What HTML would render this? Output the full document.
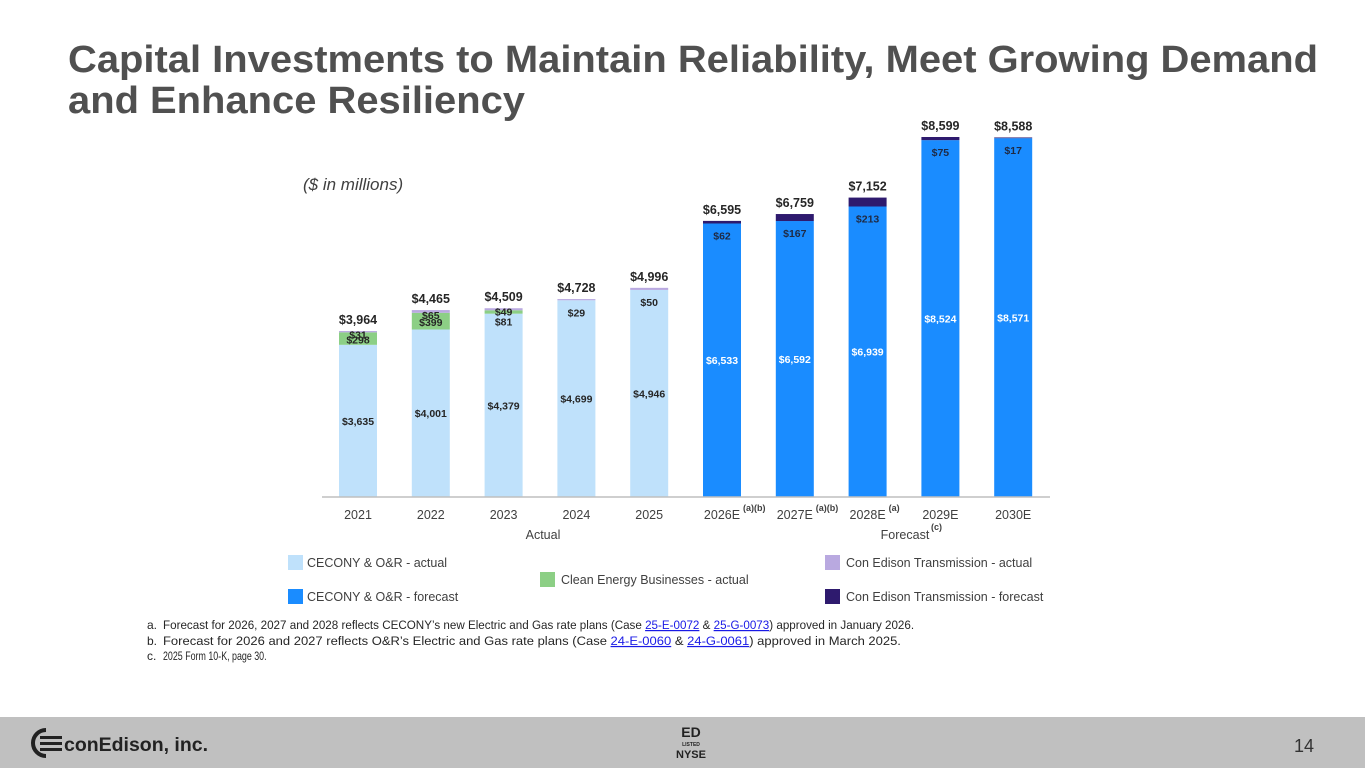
<!DOCTYPE html>
<html><head><meta charset="utf-8"><style>
html,body{margin:0;padding:0;background:#fff;}
svg{display:block;font-family:"Liberation Sans",Arial,sans-serif;}
</style></head><body>
<svg id="chart" width="1365" height="768" viewBox="0 0 1365 768">
<text x="68" y="72" font-size="38" font-weight="bold" fill="#505050" textLength="1250" lengthAdjust="spacingAndGlyphs">Capital Investments to Maintain Reliability, Meet Growing Demand</text>
<text x="68" y="113" font-size="38" font-weight="bold" fill="#505050" textLength="457" lengthAdjust="spacingAndGlyphs">and Enhance Resiliency</text>
<text x="303" y="190" font-size="17" font-style="italic" fill="#404040">($ in millions)</text>
<g id="bars"></g>
<line x1="322" y1="497" x2="1050" y2="497" stroke="#bfbfbf" stroke-width="1.5"/>
<g id="xlabels" font-size="12.5" fill="#404040" text-anchor="middle"></g>
<text x="543" y="539" font-size="12.5" fill="#404040" text-anchor="middle">Actual</text>
<text x="905" y="539" font-size="12.5" fill="#404040" text-anchor="middle">Forecast</text>
<text x="931" y="530" font-size="9" font-weight="bold" fill="#404040">(c)</text>
<g font-size="12.5" fill="#404040">
<g><rect x="288" y="555" width="15" height="15" fill="#bfe1fb"/><text x="307" y="567">CECONY &amp; O&amp;R - actual</text></g>
<g><rect x="540" y="572" width="15" height="15" fill="#8ccf85"/><text x="561" y="584">Clean Energy Businesses - actual</text></g>
<g><rect x="288" y="589" width="15" height="15" fill="#1a8cff"/><text x="307" y="601">CECONY &amp; O&amp;R - forecast</text></g>
<g><rect x="825" y="555" width="15" height="15" fill="#b9a9e0"/><text x="846" y="567">Con Edison Transmission - actual</text></g>
<g><rect x="825" y="589" width="15" height="15" fill="#2e1a6e"/><text x="846" y="601">Con Edison Transmission - forecast</text></g>
</g>
<g font-size="12" fill="#262626">
<text x="147" y="629">a.</text>
<text x="0" y="629" transform="translate(163,0) scale(0.970,1)">Forecast for 2026, 2027 and 2028 reflects CECONY’s new Electric and Gas rate plans (Case <tspan fill="#1a1ae6" text-decoration="underline">25-E-0072</tspan> &amp; <tspan fill="#1a1ae6" text-decoration="underline">25-G-0073</tspan>) approved in January 2026.</text>
<text x="147" y="645">b.</text>
<text x="0" y="645" transform="translate(163,0) scale(1.084,1)">Forecast for 2026 and 2027 reflects O&amp;R’s Electric and Gas rate plans (Case <tspan fill="#1a1ae6" text-decoration="underline">24-E-0060</tspan> &amp; <tspan fill="#1a1ae6" text-decoration="underline">24-G-0061</tspan>) approved in March 2025.</text>
<text x="147" y="660">c.</text>
<text x="0" y="660" transform="translate(163,0) scale(0.74,1)">2025 Form 10-K, page 30.</text>
</g>
<rect x="0" y="717" width="1365" height="51" fill="#c0c0c0"/>
<g>
<path d="M46 730 a13 13 0 0 0 0 26" fill="none" stroke="#222" stroke-width="4"/>
<rect x="40" y="736" width="22" height="3" fill="#222"/><rect x="40" y="742" width="22" height="3" fill="#222"/><rect x="40" y="748" width="22" height="3" fill="#222"/>
<text x="64" y="751" font-size="19" font-weight="bold" fill="#222" textLength="144" lengthAdjust="spacingAndGlyphs">conEdison, inc.</text>
</g>
<g fill="#222" text-anchor="middle" font-weight="bold">
<text x="691" y="737" font-size="14">ED</text>
<text x="691" y="746" font-size="5">LISTED</text>
<text x="691" y="758" font-size="11">NYSE</text>
</g>
<text x="1304" y="752" font-size="18" fill="#333" text-anchor="middle">14</text>
</svg>
<script>
const categories = ["2021","2022","2023","2024","2025","2026E","2027E","2028E","2029E","2030E"];
const superscripts = ["","","","","","(a)(b)","(a)(b)","(a)","",""];
const coreActual = [3635,4001,4379,4699,4946,0,0,0,0,0];
const cebActual = [298,399,81,0,0,0,0,0,0,0];
const cetActual = [31,65,49,29,50,0,0,0,0,0];
const coreForecast = [0,0,0,0,0,6533,6592,6939,8524,8571];
const cetForecast = [0,0,0,0,0,62,167,213,75,17];
const totals = [3964,4465,4509,4728,4996,6595,6759,7152,8599,8588];

const NS="http://www.w3.org/2000/svg";
const baseY=497, pxPer=360/8599, x0=358, step=72.8, bw=38;
const yScale=v=>baseY - v*pxPer;
const xScale=i=>x0 + i*step;
const fmt=v=>"$"+v.toLocaleString("en-US");
const g=document.getElementById("bars");
const xl=document.getElementById("xlabels");
function rect(x,y,w,h,fill){const r=document.createElementNS(NS,"rect");r.setAttribute("x",x);r.setAttribute("y",y);r.setAttribute("width",w);r.setAttribute("height",Math.max(h,0));r.setAttribute("fill",fill);g.appendChild(r);return r;}
function txt(parent,x,y,s,size,fill,bold){const t=document.createElementNS(NS,"text");t.setAttribute("x",x);t.setAttribute("y",y);t.setAttribute("font-size",size);t.setAttribute("fill",fill);t.setAttribute("text-anchor","middle");if(bold)t.setAttribute("font-weight","bold");t.textContent=s;parent.appendChild(t);return t;}
categories.forEach((c,i)=>{
  const cx=xScale(i), left=cx-bw/2;
  let acc=0;
  const segs=[[coreActual[i],"#bfe1fb","core-actual"],[cebActual[i],"#8ccf85","ceb-actual"],[cetActual[i],"#b9a9e0","cet-actual"],[coreForecast[i],"#1a8cff","core-forecast"],[cetForecast[i],"#2e1a6e","cet-forecast"]];
  segs.forEach(s=>{
    if(!s[0])return;
    const r=rect(left,yScale(acc+s[0]),bw,yScale(acc)-yScale(acc+s[0]),s[1]);
    
    
    acc+=s[0];
  });
  const fc=coreForecast[i]>0;
  const main=fc?coreForecast[i]:coreActual[i];
  const t1=txt(g,cx,(yScale(main)+baseY)/2+4,fmt(main),10.5,fc?"#fff":"#262626",true);
  
  
  if(fc){
    const t2=txt(g,cx,yScale(main)+16,fmt(cetForecast[i]),10.5,"#1f2a44",true);
    
    
  } else {
    const topMain=yScale(main);
    if(cebActual[i]){
      const segH=yScale(main)-yScale(main+cebActual[i]);
      const gy = segH<10 ? topMain+12 : (yScale(main)+yScale(main+cebActual[i]))/2+5;
      const t3=txt(g,cx,gy,fmt(cebActual[i]),10.5,"#262626",true);
      
      
      const t4=txt(g,cx,yScale(main+cebActual[i])+ (segH<10?5:6),fmt(cetActual[i]),10.5,"#262626",true);
      
      
    } else {
      const t4=txt(g,cx,topMain+16,fmt(cetActual[i]),10.5,"#262626",true);
      
      
    }
  }
  const tt=txt(g,cx,yScale(totals[i])-7,fmt(totals[i]),12.5,"#262626",true);
  
  
  const xt=txt(xl,cx,519,c,12.5,"#404040",false);
  
  
  if(superscripts[i]){
    const sp=txt(xl,cx+21,511,superscripts[i],9,"#404040",true);
    sp.setAttribute("text-anchor","start");
    
    
  }
});
</script>
</body></html>
